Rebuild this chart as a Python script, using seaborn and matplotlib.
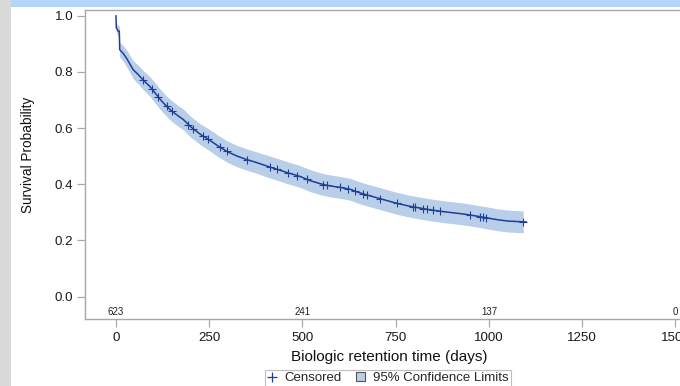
import matplotlib
matplotlib.use("Agg")
import matplotlib.pyplot as plt
from matplotlib.patches import Rectangle, Patch
from matplotlib.lines import Line2D
import seaborn as sns
import pandas as pd

# ---- data ----
time_days = [0, 1, 6, 9, 10, 20, 30, 46, 60, 75, 91, 105, 120, 136, 150, 165, 181, 200, 226,
             250, 275, 300, 325, 350, 375, 404, 430, 460, 493, 520, 550, 574, 600, 628, 650,
             680, 710, 753, 790, 842, 880, 932, 970, 1000, 1021, 1050, 1092, 1100]
survival = [1.0, 0.957, 0.945, 0.945, 0.879, 0.865, 0.845, 0.808, 0.790, 0.768, 0.748, 0.725,
            0.700, 0.677, 0.660, 0.645, 0.630, 0.605, 0.578, 0.558, 0.535, 0.515, 0.500, 0.488,
            0.478, 0.465, 0.454, 0.441, 0.428, 0.413, 0.401, 0.394, 0.389, 0.382, 0.371, 0.359,
            0.348, 0.332, 0.321, 0.309, 0.302, 0.294, 0.286, 0.279, 0.274, 0.269, 0.266, 0.266]

band_time = [1, 6, 9, 10, 20, 30, 46, 60, 75, 91, 105, 120, 136, 150, 165, 181, 200, 226,
             250, 275, 300, 325, 350, 375, 404, 430, 460, 493, 520, 550, 574, 600, 628, 650,
             680, 710, 753, 790, 842, 880, 932, 970, 1000, 1021, 1050, 1092]
band_lower = [0.942, 0.925, 0.925, 0.853, 0.837, 0.815, 0.776, 0.757, 0.734, 0.713, 0.689,
              0.664, 0.641, 0.623, 0.608, 0.593, 0.568, 0.541, 0.520, 0.497, 0.477, 0.462,
              0.450, 0.440, 0.426, 0.415, 0.402, 0.389, 0.374, 0.362, 0.355, 0.350, 0.343,
              0.332, 0.320, 0.309, 0.293, 0.282, 0.270, 0.263, 0.255, 0.247, 0.240, 0.235,
              0.230, 0.227]
band_upper = [0.972, 0.965, 0.965, 0.905, 0.893, 0.875, 0.840, 0.823, 0.802, 0.783, 0.761,
              0.736, 0.713, 0.697, 0.682, 0.667, 0.642, 0.615, 0.596, 0.573, 0.553, 0.538,
              0.526, 0.516, 0.504, 0.493, 0.480, 0.467, 0.452, 0.440, 0.433, 0.428, 0.421,
              0.410, 0.398, 0.387, 0.371, 0.360, 0.348, 0.341, 0.333, 0.325, 0.318, 0.313,
              0.308, 0.305]

censor_time = [73, 96, 113, 136, 149, 194, 207, 234, 248, 279, 297, 351, 413, 431, 462, 485,
               511, 556, 565, 601, 623, 641, 663, 672, 708, 753, 797, 802, 824, 833, 851, 869,
               950, 976, 985, 992, 1092]
censor_surv = [0.770, 0.740, 0.712, 0.677, 0.661, 0.612, 0.598, 0.572, 0.560, 0.532, 0.517,
               0.488, 0.461, 0.454, 0.440, 0.431, 0.418, 0.399, 0.396, 0.389, 0.383, 0.375,
               0.366, 0.362, 0.349, 0.332, 0.320, 0.319, 0.313, 0.311, 0.308, 0.304, 0.291,
               0.285, 0.283, 0.281, 0.266]

risk_time = [0, 500, 1000, 1500]
risk_count = ["623", "241", "137", "0"]

x_ticks = [0, 250, 500, 750, 1000, 1250, 1500]
y_ticks = [0.0, 0.2, 0.4, 0.6, 0.8, 1.0]

# ---- style ----
sns.set_theme(style="white")
plt.rcParams["font.family"] = ["Liberation Sans", "DejaVu Sans"]

LINE = "#1f3f98"
BAND = "#b9cee8"
SPINE = "#a8a8a8"

W, H = 680, 386
fig = plt.figure(figsize=(W / 100, H / 100), dpi=100)
fig.patch.set_facecolor("white")

# page decorations (gray left strip, blue banner)
fig.patches.append(Rectangle((0, 0), 11 / W, 1, transform=fig.transFigure,
                             facecolor="#dadada", edgecolor="none", zorder=0))
fig.patches.append(Rectangle((11 / W, 1 - 7 / H), 1, 7 / H, transform=fig.transFigure,
                             facecolor="#b3d5fa", edgecolor="none", zorder=0))

ax = fig.add_axes([85 / W, (H - 318.5) / H, 615 / W, 309 / H])

df_curve = pd.DataFrame({"t": time_days, "s": survival})
df_cens = pd.DataFrame({"t": censor_time, "s": censor_surv})

ax.fill_between(band_time, band_lower, band_upper, color=BAND, linewidth=0, zorder=1)
sns.lineplot(data=df_curve, x="t", y="s", ax=ax, color=LINE, linewidth=1.1,
             estimator=None, sort=False, zorder=3)
sns.scatterplot(data=df_cens, x="t", y="s", ax=ax, marker="+", color=LINE,
                s=28, linewidth=0.8, zorder=4)

for t, c in zip(risk_time, risk_count):
    ax.text(t, -0.056, c, ha="center", va="center", fontsize=7, color="#222222")

ax.set_xlim(-83, 1566)
ax.set_ylim(-0.078, 1.022)
ax.set_xticks(x_ticks)
ax.set_xticklabels([str(v) for v in x_ticks])
ax.set_yticks(y_ticks)
ax.set_yticklabels([f"{v:.1f}" for v in y_ticks])

for sp in ax.spines.values():
    sp.set_color(SPINE)
    sp.set_linewidth(1.0)
ax.tick_params(axis="both", direction="out", length=5.5, width=0.9, color=SPINE,
               labelsize=9.6, labelcolor="#1a1a1a")
ax.tick_params(axis="x", pad=4)
ax.tick_params(axis="y", pad=3)
ax.tick_params(bottom=True, left=True)

ax.set_xlabel("")
ax.set_ylabel("")
fig.text(389 / W, 1 - 357.5 / H, "Biologic retention time (days)", ha="center", va="center",
         fontsize=11, color="#111111")
fig.text(28.5 / W, 1 - 155 / H, "Survival Probability", ha="center", va="center",
         rotation=90, fontsize=9.8, color="#111111")

handles = [Line2D([], [], color=LINE, marker="+", linestyle="none", markersize=7,
                  markeredgewidth=0.9),
           Patch(facecolor=BAND, edgecolor="#555555", linewidth=0.8)]
leg = fig.legend(handles, ["Censored", "95% Confidence Limits"], loc="upper center",
                 bbox_to_anchor=(388 / W, 1 - 369.5 / H), ncol=2, fontsize=9.5,
                 frameon=True, fancybox=False, edgecolor="#b0b0b0", borderpad=0.2,
                 handlelength=0.7, handleheight=0.7, handletextpad=0.6, columnspacing=1.1,
                 borderaxespad=0)
leg.get_frame().set_linewidth(0.8)

fig.savefig("out.png", dpi=100)
